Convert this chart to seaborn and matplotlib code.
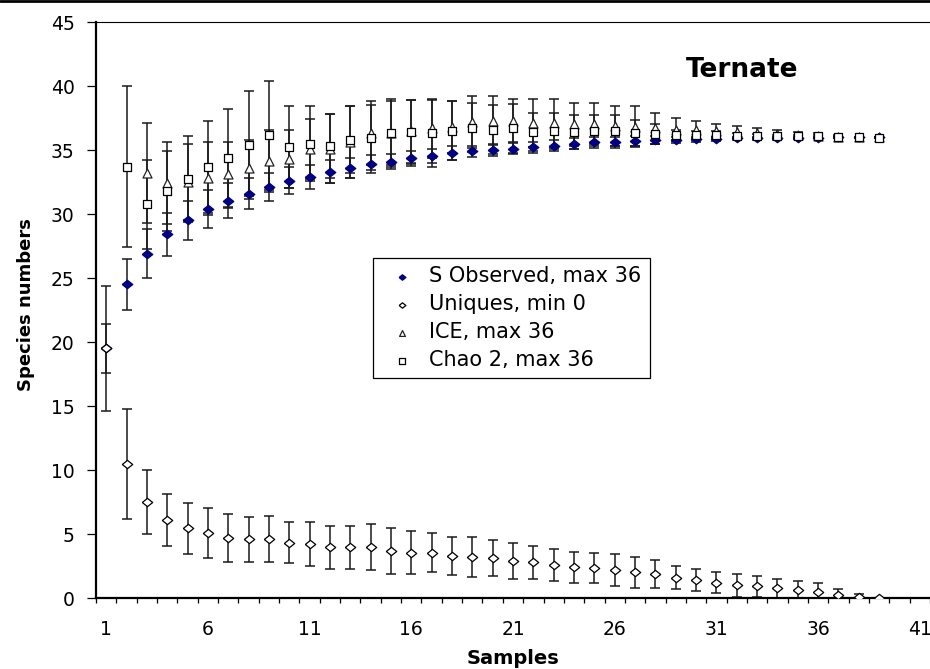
import numpy as np
import pandas as pd
import matplotlib
matplotlib.use("Agg")
import matplotlib.pyplot as plt
import seaborn as sns
from matplotlib.lines import Line2D

nan = np.nan

samples = list(range(1, 40))

s_obs = [19.5, 24.5, 26.9, 28.4, 29.5, 30.4, 31.05, 31.6, 32.1, 32.6,
         32.9, 33.3, 33.6, 33.9, 34.1, 34.35, 34.5, 34.75, 34.9, 35.0,
         35.1, 35.2, 35.35, 35.5, 35.6, 35.6, 35.7, 35.8, 35.8, 35.85,
         35.87, 35.9, 35.9, 35.92, 35.95, 35.97, 35.98, 35.99, 36.0]
s_obs_sd = [1.9, 2.0, 1.9, 1.7, 1.55, 1.5, 1.35, 1.2, 1.1, 1.05,
            0.95, 0.9, 0.8, 0.7, 0.6, 0.6, 0.55, 0.55, 0.45, 0.45,
            0.45, 0.45, 0.45, 0.45, 0.45, 0.45, 0.4, 0.3, 0.25, 0.2,
            0.18, 0.15, 0.13, 0.1, 0.08, 0.06, 0.04, 0.02, 0.0]

uniques = [19.5, 10.45, 7.5, 6.1, 5.45, 5.05, 4.7, 4.6, 4.6, 4.3,
           4.2, 3.95, 3.95, 3.95, 3.7, 3.55, 3.55, 3.3, 3.2, 3.1,
           2.9, 2.8, 2.6, 2.4, 2.35, 2.15, 2.0, 1.9, 1.6, 1.4,
           1.2, 1.0, 0.9, 0.75, 0.6, 0.5, 0.25, 0.1, 0.0]
uniques_sd = [4.9, 4.3, 2.5, 2.0, 2.0, 1.95, 1.85, 1.75, 1.8, 1.6,
              1.7, 1.7, 1.7, 1.8, 1.8, 1.7, 1.5, 1.5, 1.55, 1.4,
              1.4, 1.3, 1.25, 1.2, 1.2, 1.25, 1.2, 1.1, 0.9, 0.85,
              0.8, 0.9, 0.8, 0.75, 0.7, 0.7, 0.45, 0.25, 0.0]

ice = [nan, nan, 33.2, 32.4, 32.5, 32.8, 33.1, 33.6, 34.15, 34.3,
       35.05, 35.1, 35.6, 36.3, 36.3, 36.45, 36.7, 36.8, 37.2, 37.3,
       37.3, 37.1, 37.1, 37.0, 37.05, 36.9, 36.8, 36.7, 36.6, 36.55,
       36.5, 36.4, 36.3, 36.25, 36.15, 36.1, 36.05, 36.0, 36.0]
ice_sd = [nan, nan, 3.9, 3.2, 3.0, 2.85, 2.55, 2.2, 2.4, 2.3,
          2.35, 2.7, 2.8, 2.5, 2.5, 2.45, 2.3, 2.0, 2.05, 1.9,
          1.7, 1.85, 1.85, 1.65, 1.6, 1.55, 1.6, 1.2, 0.9, 0.75,
          0.5, 0.5, 0.4, 0.3, 0.25, 0.2, 0.1, 0.05, 0.0]

chao2 = [nan, 33.7, 30.75, 31.8, 32.75, 33.7, 34.35, 35.4, 36.15, 35.2,
         35.5, 35.3, 35.8, 35.95, 36.35, 36.4, 36.3, 36.5, 36.75, 36.6,
         36.7, 36.4, 36.5, 36.4, 36.5, 36.5, 36.35, 36.25, 36.2, 36.2,
         36.2, 36.1, 36.1, 36.1, 36.1, 36.1, 36.05, 36.0, 35.95]
chao2_sd = [nan, 6.3, 3.45, 3.1, 3.35, 3.6, 3.85, 4.2, 4.25, 3.2,
            2.9, 2.5, 2.6, 2.55, 2.65, 2.5, 2.6, 2.3, 1.9, 1.9,
            1.9, 1.5, 1.4, 1.3, 1.2, 1.2, 1.0, 0.75, 0.4, 0.3,
            0.25, 0.2, 0.15, 0.1, 0.08, 0.05, 0.03, 0.0, 0.0]

series_labels = ["S Observed, max 36", "Uniques, min 0", "ICE, max 36", "Chao 2, max 36"]
x_ticks = [1, 6, 11, 16, 21, 26, 31, 36, 41]
y_ticks = [0, 5, 10, 15, 20, 25, 30, 35, 40, 45]

sns.set_theme(style="ticks")
plt.rcParams['font.family'] = ['DejaVu Sans']

fig = plt.figure(figsize=(9.3, 6.69), dpi=100)
ax = fig.add_axes([96 / 930, 1 - 598 / 669, 834 / 930, 576 / 669])

# wide diamond (the original picture is stretched sideways)
wide_diamond = [(-1, 0), (0, 0.8), (1, 0), (0, -0.8), (-1, 0)]

series = [
    (s_obs, s_obs_sd, wide_diamond, 58, "#000080", "#000080"),
    (uniques, uniques_sd, wide_diamond, 56, "white", "black"),
    (ice, ice_sd, "^", 42, "white", "#222222"),
    (chao2, chao2_sd, "s", 36, "white", "black"),
]

for i, (vals, sd, mk, size, fc, ec) in enumerate(series):
    ax.errorbar(samples, vals, yerr=sd, fmt="none", ecolor="#1a1a1a",
                elinewidth=1.1, capsize=3.6, capthick=1.1, zorder=2 + i * 0.1)

for i, (vals, sd, mk, size, fc, ec) in enumerate(series):
    df = pd.DataFrame({"Samples": samples, "value": vals}).dropna()
    sns.scatterplot(data=df, x="Samples", y="value", marker=mk, s=size,
                    color=fc, edgecolor=ec, linewidth=0.9,
                    label=series_labels[i], ax=ax, zorder=4 + i * 0.1)

ax.set_xlim(0.5, 41.5)
ax.set_ylim(0, 45)

ax.set_xticks(x_ticks)
ax.set_xticks(np.arange(0.5, 42, 1), minor=True)
ax.tick_params(axis="x", which="major", length=0, pad=16, labelsize=13.5)
ax.tick_params(axis="x", which="minor", length=3.6, width=0.9, direction="out",
               color="black")
ax.set_yticks(y_ticks)
ax.tick_params(axis="y", length=6.5, width=0.9, direction="out", pad=9,
               labelsize=13.5, color="black")
for lab in ax.get_xticklabels() + ax.get_yticklabels():
    lab.set_color("black")

ax.spines["right"].set_visible(False)
ax.spines["left"].set_linewidth(1.6)
ax.spines["bottom"].set_linewidth(1.6)
ax.spines["top"].set_linewidth(0.8)
for sp in ax.spines.values():
    sp.set_color("black")

ax.set_xlabel("Samples", fontsize=14, fontweight="bold", color="black")
ax.xaxis.set_label_coords(0.5, -0.088)
ax.set_ylabel("Species numbers", fontsize=13, fontweight="bold", color="black")
ax.yaxis.set_label_coords(-0.073, 0.51)

ax.text(0.7746, 0.9045, "Ternate", transform=ax.transAxes, ha="center",
        va="baseline", fontsize=19, fontweight="bold", color="black")

leg = ax.legend(loc="upper left", bbox_to_anchor=(373 / 930, 1 - 258 / 669),
                bbox_transform=fig.transFigure, borderaxespad=0, fontsize=15,
                frameon=True, fancybox=False, framealpha=1, edgecolor="black",
                handlelength=2.0, handletextpad=0.3, borderpad=0.4,
                labelspacing=0.38, markerscale=0.65)
leg.get_frame().set_linewidth(0.9)
for t in leg.get_texts():
    t.set_color("black")

# thick frame line along the top of the picture
fig.add_artist(Line2D([0, 1], [1 - 1.4 / 669, 1 - 1.4 / 669],
                      transform=fig.transFigure, color="black", linewidth=2.0))

fig.savefig("out.png", dpi=100, facecolor="white")
